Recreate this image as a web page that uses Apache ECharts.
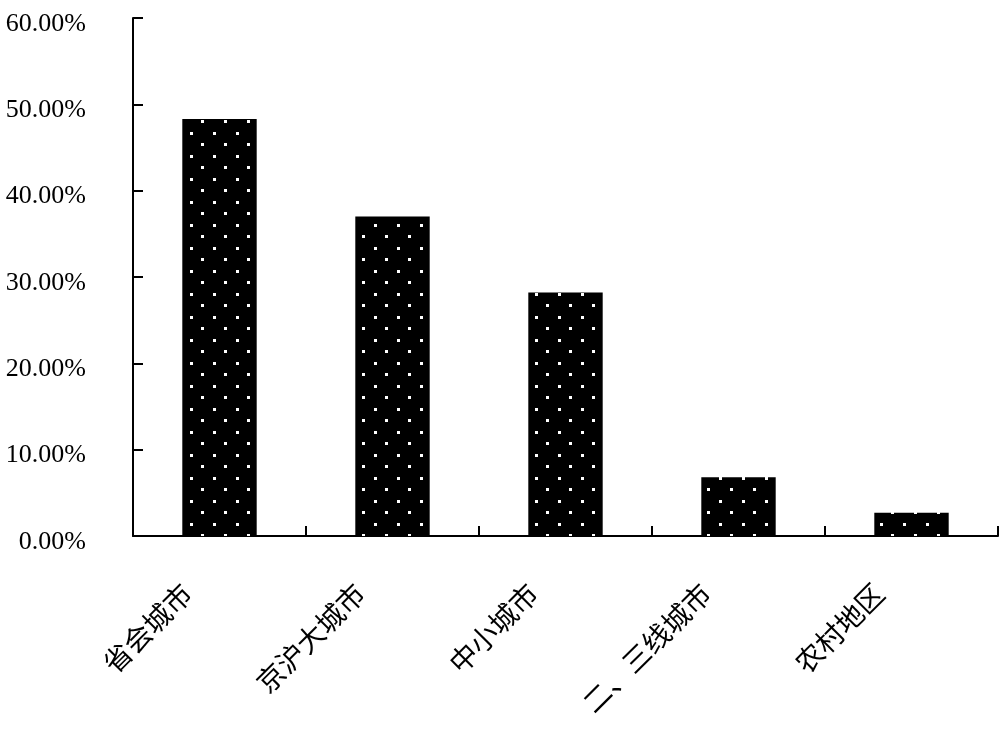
<!DOCTYPE html>
<html>
<head>
<meta charset="utf-8">
<script src="https://cdn.jsdelivr.net/npm/echarts@6/dist/echarts.min.js"></script>
<style>
html,body{margin:0;padding:0;background:#fff;}
#chart{width:1000px;height:732px;}
</style>
</head>
<body>
<div id="chart"></div>
<script>
const categories = ['省会城市', '京沪大城市', '中小城市', '二、三线城市', '农村地区'];
const shares = [48.3, 37.0, 28.2, 6.8, 2.7];
const yMin = 0, yMax = 60, yStep = 10;

// dotted pattern tile
const tile = document.createElement('canvas');
tile.width = 23; tile.height = 23;
const ctx = tile.getContext('2d');
ctx.fillStyle = '#000';
ctx.fillRect(0, 0, 23, 23);
ctx.fillStyle = '#fff';
ctx.fillRect(6, 17, 3, 3);
ctx.fillRect(17, 5, 3, 3);

const chart = echarts.init(document.getElementById('chart'), null, {renderer: 'canvas'});
chart.setOption({
  animation: false,
  backgroundColor: '#fff',
  grid: {left: 133, right: 2, top: 18, bottom: 196, containLabel: false},
  xAxis: {
    type: 'category',
    data: categories,
    boundaryGap: true,
    axisLine: {show: true, lineStyle: {color: '#000', width: 2}},
    axisTick: {show: true, inside: true, length: 10, lineStyle: {color: '#000', width: 2}},
    axisLabel: {
      rotate: 45,
      interval: 0,
      margin: 20,
      align: 'right',
      verticalAlign: 'middle',
      padding: [0, 46, 0, 0],
      color: '#000',
      fontSize: 28,
      fontFamily: '"Noto Sans CJK SC", sans-serif'
    },
    splitLine: {show: false}
  },
  yAxis: {
    type: 'value',
    min: yMin, max: yMax, interval: yStep,
    axisLine: {show: true, lineStyle: {color: '#000', width: 2}},
    axisTick: {show: true, inside: true, length: 10, lineStyle: {color: '#000', width: 2}},
    axisLabel: {
      margin: 47,
      color: '#000',
      fontSize: 26,
      fontFamily: '"Liberation Serif", "Times New Roman", serif',
      formatter: v => '{v|' + v.toFixed(2) + '%}',
      rich: {
        v: {
          fontSize: 26,
          color: '#000',
          fontFamily: '"Liberation Serif", "Times New Roman", serif',
          padding: [12, 0, 0, 0]
        }
      }
    },
    splitLine: {show: false}
  },
  series: [{
    type: 'bar',
    data: shares,
    barWidth: '43%',
    itemStyle: {color: {image: tile, repeat: 'repeat'}}
  }]
});
</script>
</body>
</html>
